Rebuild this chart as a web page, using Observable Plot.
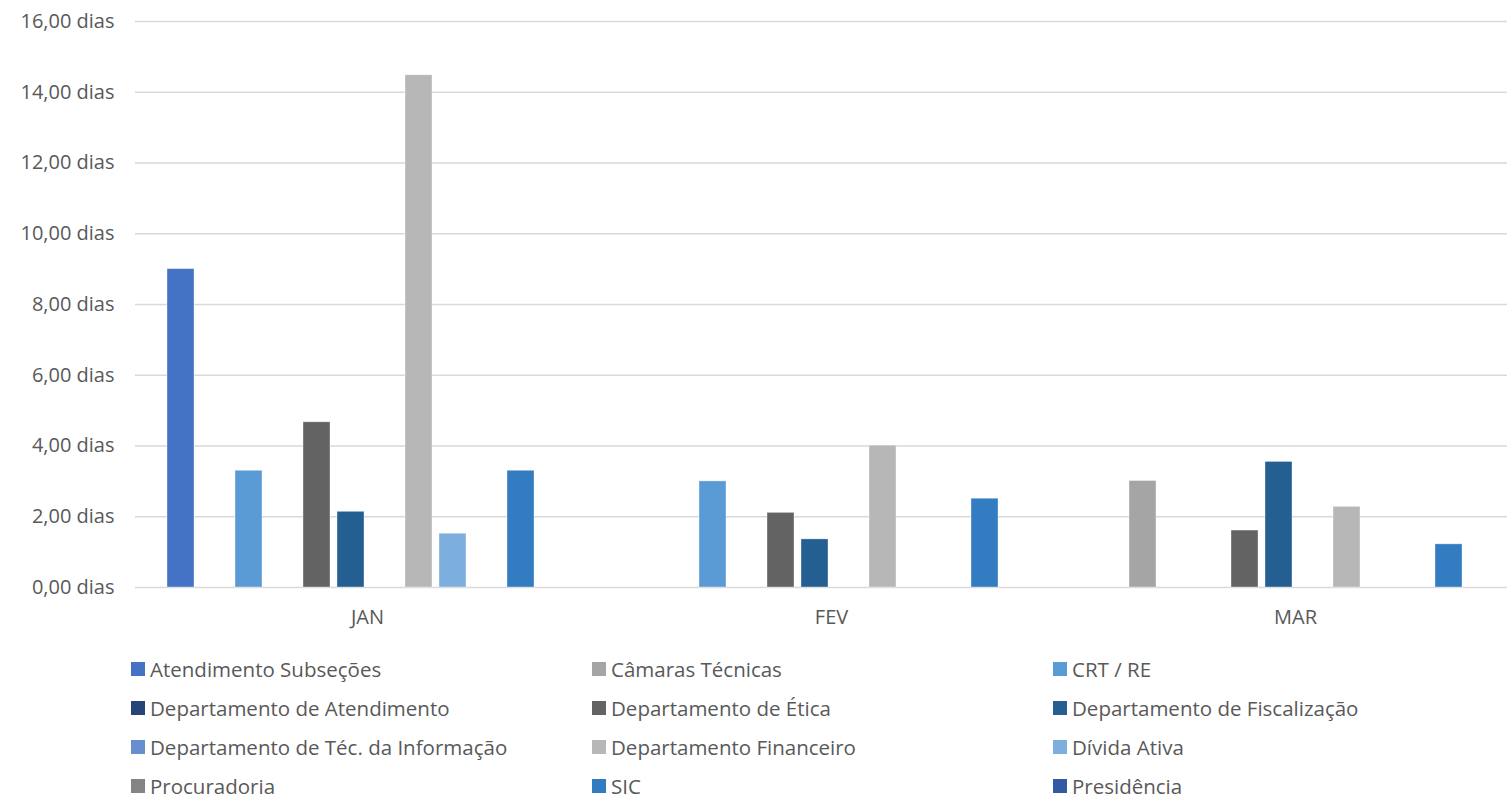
<!DOCTYPE html>
<html>
<head>
<meta charset="utf-8">
<script src="https://cdn.jsdelivr.net/npm/d3@7"></script>
<script src="https://cdn.jsdelivr.net/npm/@observablehq/plot@0.6"></script>
<style>
  html, body { margin: 0; padding: 0; background: #fff; overflow: hidden; width: 1507px; height: 801px; }
  #chart { position: absolute; left: 0; top: 0; }
  #legend {
    position: absolute; left: 131px; top: 649px;
    display: grid; grid-template-columns: 461px 461px 461px; grid-auto-rows: 39px;
    font-family: "Open Sans", sans-serif; font-size: 20.5px; line-height: 18px; color: #595959;
  }
  .item { display: flex; align-items: center; white-space: nowrap; }
  .sw { width: 14px; height: 14px; margin-right: 5px; flex: none; }
</style>
</head>
<body>
<div id="chart"></div>
<div id="legend"></div>
<script>
const months = ["JAN", "FEV", "MAR"];
const series = [
  "Atendimento Subseções", "Câmaras Técnicas", "CRT / RE",
  "Departamento de Atendimento", "Departamento de Ética", "Departamento de Fiscalização",
  "Departamento de Téc. da Informação", "Departamento Financeiro", "Dívida Ativa",
  "Procuradoria", "SIC", "Presidência"
];
const colors = [
  "#4472C4", "#A5A5A5", "#5B9BD5",
  "#264478", "#636363", "#255E91",
  "#698ED0", "#B7B7B7", "#7CAFDD",
  "#848484", "#327DC2", "#335AA1"
];
// values per series for JAN, FEV, MAR (null = no bar)
const atendimentoSubsecoes = [9.0, null, null];
const camarasTecnicas = [null, null, 3.01];
const crtRe = [3.3, 3.0, null];
const depAtendimento = [null, null, null];
const depEtica = [4.67, 2.11, 1.61];
const depFiscalizacao = [2.14, 1.36, 3.55];
const depTecInformacao = [null, null, null];
const depFinanceiro = [14.48, 4.01, 2.28];
const dividaAtiva = [1.52, null, null];
const procuradoria = [null, null, null];
const sic = [3.3, 2.51, 1.22];
const presidencia = [null, null, null];
const yTicks = [0, 2, 4, 6, 8, 10, 12, 14, 16];

const valuesBySeries = [
  atendimentoSubsecoes, camarasTecnicas, crtRe,
  depAtendimento, depEtica, depFiscalizacao,
  depTecInformacao, depFinanceiro, dividaAtiva,
  procuradoria, sic, presidencia
];

const data = [];
series.forEach((s, i) => {
  months.forEach((m, j) => {
    const v = valuesBySeries[i][j];
    if (v != null) data.push({month: m, series: s, value: v});
  });
});

const chart = Plot.plot({
  width: 1528,
  height: 641,
  marginLeft: 134,
  marginRight: 0,
  marginTop: 21,
  marginBottom: 54,
  style: {fontFamily: "'Open Sans', sans-serif", fontSize: "20px", color: "#595959", maxWidth: "none", background: "white"},
  fx: {domain: months, padding: 0, label: null, axis: "bottom", tickSize: 0, tickPadding: 22},
  x: {domain: series, axis: null, paddingInner: 0.215, paddingOuter: 0.857},
  y: {domain: [0, 16], ticks: yTicks, tickSize: 0, tickPadding: 21, label: null,
      tickFormat: d => d.toFixed(2).replace(".", ",") + " dias"},
  color: {domain: series, range: colors},
  marks: [
    Plot.ruleY(yTicks, {stroke: "#d9d9d9", strokeWidth: 1.5}),
    Plot.barY(data, {fx: "month", x: "series", y: "value", fill: "series",
      stroke: "white", strokeOpacity: 0.45, strokeWidth: 0.8})
  ]
});
document.getElementById("chart").appendChild(chart);

const legend = document.getElementById("legend");
series.forEach((s, i) => {
  const it = document.createElement("div");
  it.className = "item";
  const sw = document.createElement("span");
  sw.className = "sw";
  sw.style.background = colors[i];
  const tx = document.createElement("span");
  tx.textContent = s;
  it.appendChild(sw);
  it.appendChild(tx);
  legend.appendChild(it);
});
</script>
</body>
</html>
